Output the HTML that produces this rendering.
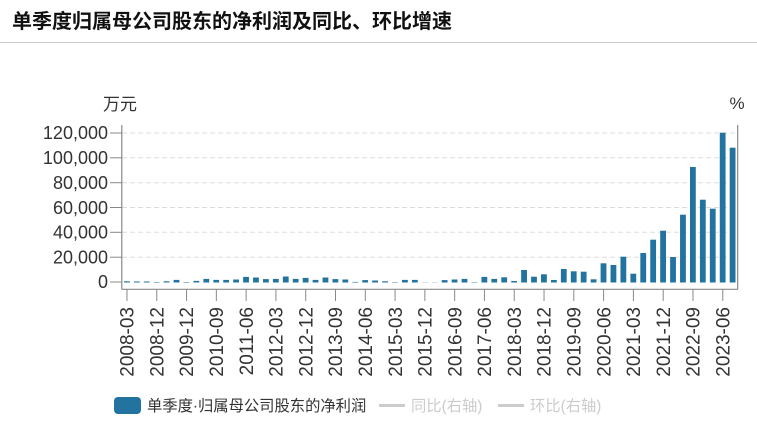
<!DOCTYPE html>
<html><head><meta charset="utf-8"><style>
html,body{margin:0;padding:0;background:#fff;}
svg{display:block;font-family:"Liberation Sans","Noto Sans CJK SC",sans-serif;}
</style></head><body>
<svg width="757" height="434" viewBox="0 0 757 434" xmlns="http://www.w3.org/2000/svg">
<rect width="757" height="434" fill="#fff"/>
<text x="12" y="28" font-size="20" font-weight="bold" fill="#111">单季度归属母公司股东的净利润及同比、环比增速</text>
<line x1="0" y1="42.5" x2="757" y2="42.5" stroke="#ccc" stroke-width="1"/>
<text x="120" y="110" font-size="17" fill="#333" text-anchor="middle">万元</text>
<text x="737" y="109" font-size="17" fill="#333" text-anchor="middle">%</text>
<g stroke="#ddd" stroke-width="1" stroke-dasharray="5,3">
<line x1="122" y1="133" x2="737" y2="133"/>
<line x1="122" y1="157.8" x2="737" y2="157.8"/>
<line x1="122" y1="182.7" x2="737" y2="182.7"/>
<line x1="122" y1="207.5" x2="737" y2="207.5"/>
<line x1="122" y1="232.3" x2="737" y2="232.3"/>
<line x1="122" y1="257.2" x2="737" y2="257.2"/>
</g>
<g font-size="18" fill="#333" text-anchor="end">
<text x="108" y="139">120,000</text>
<text x="108" y="164">100,000</text>
<text x="108" y="189">80,000</text>
<text x="108" y="214">60,000</text>
<text x="108" y="238.5">40,000</text>
<text x="108" y="263.5">20,000</text>
<text x="108" y="288">0</text>
</g>
<g stroke="#888" stroke-width="1">
<line x1="110" y1="133" x2="122" y2="133"/>
<line x1="110" y1="157.8" x2="122" y2="157.8"/>
<line x1="110" y1="182.7" x2="122" y2="182.7"/>
<line x1="110" y1="207.5" x2="122" y2="207.5"/>
<line x1="110" y1="232.3" x2="122" y2="232.3"/>
<line x1="110" y1="257.2" x2="122" y2="257.2"/>
<line x1="110" y1="282" x2="122" y2="282"/>
</g>
<g fill="#22739f">
<rect x="123.97" y="281.3" width="5.8" height="1.2"/>
<rect x="133.90" y="281.5" width="5.8" height="1"/>
<rect x="143.83" y="281.5" width="5.8" height="1"/>
<rect x="153.76" y="282" width="5.8" height="0.5"/>
<rect x="163.69" y="281.3" width="5.8" height="1.2"/>
<rect x="173.62" y="279.9" width="5.8" height="2.6"/>
<rect x="183.55" y="282" width="5.8" height="0.5"/>
<rect x="193.48" y="280.9" width="5.8" height="1.6"/>
<rect x="203.41" y="278.9" width="5.8" height="3.6"/>
<rect x="213.34" y="279.9" width="5.8" height="2.6"/>
<rect x="223.27" y="279.9" width="5.8" height="2.6"/>
<rect x="233.20" y="279.5" width="5.8" height="3"/>
<rect x="243.13" y="276.9" width="5.8" height="5.6"/>
<rect x="253.06" y="277.5" width="5.8" height="5"/>
<rect x="262.99" y="279.1" width="5.8" height="3.4"/>
<rect x="272.92" y="278.9" width="5.8" height="3.6"/>
<rect x="282.85" y="276.5" width="5.8" height="6"/>
<rect x="292.78" y="278.9" width="5.8" height="3.6"/>
<rect x="302.71" y="277.9" width="5.8" height="4.6"/>
<rect x="312.64" y="279.9" width="5.8" height="2.6"/>
<rect x="322.57" y="277.5" width="5.8" height="5"/>
<rect x="332.50" y="279.1" width="5.8" height="3.4"/>
<rect x="342.43" y="279.5" width="5.8" height="3"/>
<rect x="352.36" y="281.9" width="5.8" height="0.6"/>
<rect x="362.29" y="280.1" width="5.8" height="2.4"/>
<rect x="372.22" y="280.5" width="5.8" height="2"/>
<rect x="382.15" y="281.3" width="5.8" height="1.2"/>
<rect x="392.08" y="282.1" width="5.8" height="0.4"/>
<rect x="402.01" y="279.9" width="5.8" height="2.6"/>
<rect x="411.94" y="279.9" width="5.8" height="2.6"/>
<rect x="421.87" y="282.3" width="5.8" height="0.2"/>
<rect x="431.80" y="282.3" width="5.8" height="0.2"/>
<rect x="441.73" y="280.1" width="5.8" height="2.4"/>
<rect x="451.66" y="279.5" width="5.8" height="3"/>
<rect x="461.59" y="278.9" width="5.8" height="3.6"/>
<rect x="471.52" y="282.1" width="5.8" height="0.4"/>
<rect x="481.45" y="276.9" width="5.8" height="5.6"/>
<rect x="491.38" y="278.9" width="5.8" height="3.6"/>
<rect x="501.31" y="277.3" width="5.8" height="5.2"/>
<rect x="511.24" y="281" width="5.8" height="1.5"/>
<rect x="521.17" y="270" width="5.8" height="12.5"/>
<rect x="531.10" y="276.7" width="5.8" height="5.8"/>
<rect x="541.03" y="274.3" width="5.8" height="8.2"/>
<rect x="550.96" y="280" width="5.8" height="2.5"/>
<rect x="560.89" y="269" width="5.8" height="13.5"/>
<rect x="570.82" y="271.3" width="5.8" height="11.2"/>
<rect x="580.75" y="271.7" width="5.8" height="10.8"/>
<rect x="590.68" y="279.3" width="5.8" height="3.2"/>
<rect x="600.61" y="263.3" width="5.8" height="19.2"/>
<rect x="610.54" y="265" width="5.8" height="17.5"/>
<rect x="620.47" y="256.7" width="5.8" height="25.8"/>
<rect x="630.40" y="273.7" width="5.8" height="8.8"/>
<rect x="640.33" y="253" width="5.8" height="29.5"/>
<rect x="650.26" y="239.7" width="5.8" height="42.8"/>
<rect x="660.19" y="230.7" width="5.8" height="51.8"/>
<rect x="670.12" y="257" width="5.8" height="25.5"/>
<rect x="680.05" y="214.7" width="5.8" height="67.8"/>
<rect x="689.98" y="167" width="5.8" height="115.5"/>
<rect x="699.91" y="199.7" width="5.8" height="82.8"/>
<rect x="709.84" y="208.7" width="5.8" height="73.8"/>
<rect x="719.77" y="132.7" width="5.8" height="149.8"/>
<rect x="729.70" y="147.7" width="5.8" height="134.8"/>
</g>
<g stroke="#888" stroke-width="1.2">
<line x1="121.8" y1="125" x2="121.8" y2="289.5"/>
<line x1="737.7" y1="125" x2="737.7" y2="289.5"/>
<line x1="121.8" y1="289.3" x2="737.7" y2="289.3"/>
</g>
<g stroke="#888" stroke-width="1">
<line x1="126.97" y1="289" x2="126.97" y2="301"/>
<line x1="156.76" y1="289" x2="156.76" y2="301"/>
<line x1="186.55" y1="289" x2="186.55" y2="301"/>
<line x1="216.34" y1="289" x2="216.34" y2="301"/>
<line x1="246.13" y1="289" x2="246.13" y2="301"/>
<line x1="275.92" y1="289" x2="275.92" y2="301"/>
<line x1="305.71" y1="289" x2="305.71" y2="301"/>
<line x1="335.50" y1="289" x2="335.50" y2="301"/>
<line x1="365.29" y1="289" x2="365.29" y2="301"/>
<line x1="395.08" y1="289" x2="395.08" y2="301"/>
<line x1="424.87" y1="289" x2="424.87" y2="301"/>
<line x1="454.66" y1="289" x2="454.66" y2="301"/>
<line x1="484.45" y1="289" x2="484.45" y2="301"/>
<line x1="514.24" y1="289" x2="514.24" y2="301"/>
<line x1="544.03" y1="289" x2="544.03" y2="301"/>
<line x1="573.82" y1="289" x2="573.82" y2="301"/>
<line x1="603.61" y1="289" x2="603.61" y2="301"/>
<line x1="633.40" y1="289" x2="633.40" y2="301"/>
<line x1="663.19" y1="289" x2="663.19" y2="301"/>
<line x1="692.98" y1="289" x2="692.98" y2="301"/>
<line x1="722.77" y1="289" x2="722.77" y2="301"/>
</g>
<g font-size="19" fill="#333" text-anchor="end">
<text transform="translate(133.6,307) rotate(-90)">2008-03</text>
<text transform="translate(163.4,307) rotate(-90)">2008-12</text>
<text transform="translate(193.2,307) rotate(-90)">2009-12</text>
<text transform="translate(223.0,307) rotate(-90)">2010-09</text>
<text transform="translate(252.8,307) rotate(-90)">2011-06</text>
<text transform="translate(282.6,307) rotate(-90)">2012-03</text>
<text transform="translate(312.4,307) rotate(-90)">2012-12</text>
<text transform="translate(342.2,307) rotate(-90)">2013-09</text>
<text transform="translate(372.0,307) rotate(-90)">2014-06</text>
<text transform="translate(401.8,307) rotate(-90)">2015-03</text>
<text transform="translate(431.5,307) rotate(-90)">2015-12</text>
<text transform="translate(461.3,307) rotate(-90)">2016-09</text>
<text transform="translate(491.1,307) rotate(-90)">2017-06</text>
<text transform="translate(520.9,307) rotate(-90)">2018-03</text>
<text transform="translate(550.7,307) rotate(-90)">2018-12</text>
<text transform="translate(580.5,307) rotate(-90)">2019-09</text>
<text transform="translate(610.3,307) rotate(-90)">2020-06</text>
<text transform="translate(640.1,307) rotate(-90)">2021-03</text>
<text transform="translate(669.9,307) rotate(-90)">2021-12</text>
<text transform="translate(699.7,307) rotate(-90)">2022-09</text>
<text transform="translate(729.4,307) rotate(-90)">2023-06</text>
</g>
<rect x="114" y="397" width="27" height="17" rx="4" fill="#22739f"/>
<text x="147" y="411" font-size="15.3" fill="#333">单季度·归属母公司股东的净利润</text>
<line x1="379" y1="405.5" x2="405" y2="405.5" stroke="#ccc" stroke-width="3"/>
<text x="411" y="411" font-size="15.3" fill="#ccc">同比(右轴)</text>
<line x1="498" y1="405.5" x2="524" y2="405.5" stroke="#ccc" stroke-width="3"/>
<text x="530" y="411" font-size="15.3" fill="#ccc">环比(右轴)</text>
</svg>
</body></html>
